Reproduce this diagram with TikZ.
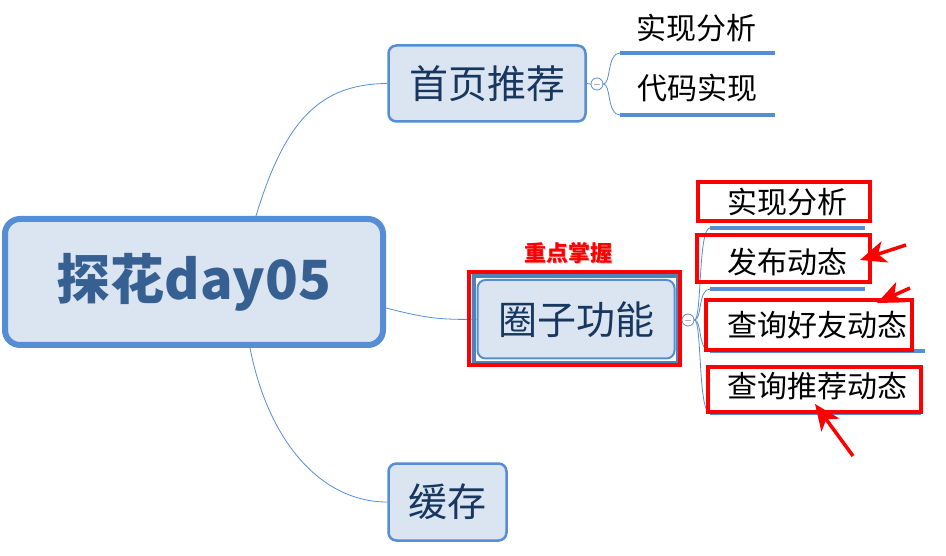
\documentclass[tikz,border=0pt]{standalone}
\usepackage{fontspec}
\setmainfont{Noto Sans CJK SC}
\usetikzlibrary{arrows.meta}
\definecolor{bordblue}{HTML}{558ED5}
\definecolor{fillblue}{HTML}{DBE5F1}
\definecolor{navy}{HTML}{17375E}
\definecolor{rootblue}{HTML}{376092}
\definecolor{selblue}{HTML}{4F81BD}
\definecolor{redmark}{HTML}{FF0000}
\definecolor{shadowgray}{HTML}{C8C8C8}
\begin{document}
\begin{tikzpicture}[x=1pt,y=-1pt,
  topic/.style={draw=bordblue, line width=2.5pt, fill=fillblue, rounded corners=8pt,
    inner sep=0pt, text=navy, font=\fontsize{39}{39}\selectfont},
  sublabel/.style={inner sep=0pt, text=black, font=\fontsize{30}{30}\selectfont},
  redbox/.style={draw=redmark, line width=3.5pt, inner sep=0pt},
  underl/.style={draw=bordblue, line width=4.5pt},
  conn/.style={draw=bordblue, line width=0.8pt},
  collapse/.style={circle, draw=bordblue, fill=white, line width=0.8pt, minimum size=12pt, inner sep=0pt},
  redarrow/.style={draw=redmark, line width=3.5pt, -{Stealth[length=26pt 0,width=22pt 0,inset=7pt 0]}},
  marktext/.style={inner sep=0pt, font=\bfseries\fontsize{22}{22}\selectfont}
]
\useasboundingbox (0,0) rectangle (946,556);
\fill[white] (0,0) rectangle (946,556);

% main topics
\node[topic, line width=6pt, rounded corners=15pt, minimum width=378pt, minimum height=126pt,
  text=rootblue, font=\bfseries\fontsize{54}{54}\selectfont] (root) at (194,282) {探花day05};
\node[topic, minimum width=197pt, minimum height=76pt] (t1) at (487,83.5) {首页推荐};
\node[topic, minimum width=118pt, minimum height=77pt] (t3) at (447.5,502) {缓存};
\node[topic, line width=2pt, minimum width=197pt, minimum height=78.5pt] (t2) at (576,319.25) {圈子功能};

% connectors from root
\draw[conn] ([xshift=62pt]root.north) .. controls (285,120) and (320,84) .. (t1.west);
\draw[conn] ([yshift=-26pt]root.east) .. controls (425,318) and (440,320) .. (t2.west);
\draw[conn] ([xshift=56pt]root.south) .. controls (268,440) and (320,502) .. (t3.west);

% selection and red marking around t2
\draw[selblue, line width=4pt] (473.5,276) rectangle (678,362.5);
\draw[shadowgray, line width=2pt] (680.5,278) -- (680.5,366);
\node[redbox, line width=4pt, minimum width=211pt, minimum height=93pt] (rb0) at (574.5,318.5) {};

% mark text
\node[marktext, text=shadowgray] at (569.5,254.5) {重点掌握};
\node[marktext, text=redmark] (mark) at (568,253) {重点掌握};

% collapse buttons
\node[collapse] (k1) at (597,84) {};
\draw[gray!60, line width=0.8pt] ([xshift=-3pt]k1.center) -- ([xshift=3pt]k1.center);
\node[collapse] (k2) at (688,320) {};
\draw[gray!60, line width=0.8pt] ([xshift=-3pt]k2.center) -- ([xshift=3pt]k2.center);
\draw[conn] (t1.east) -- (k1.west);

% underline coordinates
\coordinate (a1) at (620,53);  \coordinate (a1e) at (775,53);
\coordinate (a2) at (620,115); \coordinate (a2e) at (775,115);
\coordinate (b1) at (710,228); \coordinate (b1e) at (865,228);
\coordinate (b2) at (710,289); \coordinate (b2e) at (865,289);
\coordinate (b3) at (710,351); \coordinate (b3e) at (925,351);
\coordinate (b4) at (710,413); \coordinate (b4e) at (921,413);

% branch curves
\draw[conn] (k1.east) .. controls (611,84) and (607,53) .. (a1);
\draw[conn] (k1.east) .. controls (611,84) and (607,115) .. (a2);
\draw[conn] (k2.east) .. controls (702,320) and (698,228) .. (b1);
\draw[conn] (k2.east) .. controls (702,320) and (698,289) .. (b2);
\draw[conn] (k2.east) .. controls (702,320) and (698,351) .. (b3);
\draw[conn] (k2.east) .. controls (702,320) and (698,413) .. (b4);

% underlines
\draw[underl] (a1) -- (a1e);
\draw[underl] (a2) -- (a2e);
\draw[underl] (b1) -- (b1e);
\draw[underl] (b2) -- (b2e);
\draw[underl] (b3) -- (b3e);
\draw[underl] (b4) -- (b4e);

% sub topic labels
\node[sublabel] (s11) at (696.5,28) {实现分析};
\node[sublabel] (s12) at (697,88) {代码实现};
\node[sublabel] (s21) at (787,202) {实现分析};
\node[sublabel] (s22) at (787,262) {发布动态};
\node[sublabel] (s23) at (817.5,325) {查询好友动态};
\node[sublabel] (s24) at (817.5,386) {查询推荐动态};

% red annotation boxes
\node[redbox, minimum width=172pt, minimum height=39pt] (rb1) at (784,201.5) {};
\node[redbox, minimum width=173pt, minimum height=47pt] (rb2) at (783.5,258.5) {};
\node[redbox, minimum width=206pt, minimum height=50pt] (rb3) at (809,325) {};
\node[redbox, minimum width=213pt, minimum height=45pt] (rb4) at (814.5,389.5) {};

% red arrows
\coordinate (p1) at (906,245); \coordinate (q1) at (860,260);
\coordinate (p2) at (910,288); \coordinate (q2) at (877,303);
\coordinate (p3) at (853,456); \coordinate (q3) at (815,404);
\draw[redarrow] (p1) -- (q1);
\draw[redarrow] (p2) -- (q2);
\draw[redarrow] (p3) -- (q3);
\end{tikzpicture}
\end{document}
